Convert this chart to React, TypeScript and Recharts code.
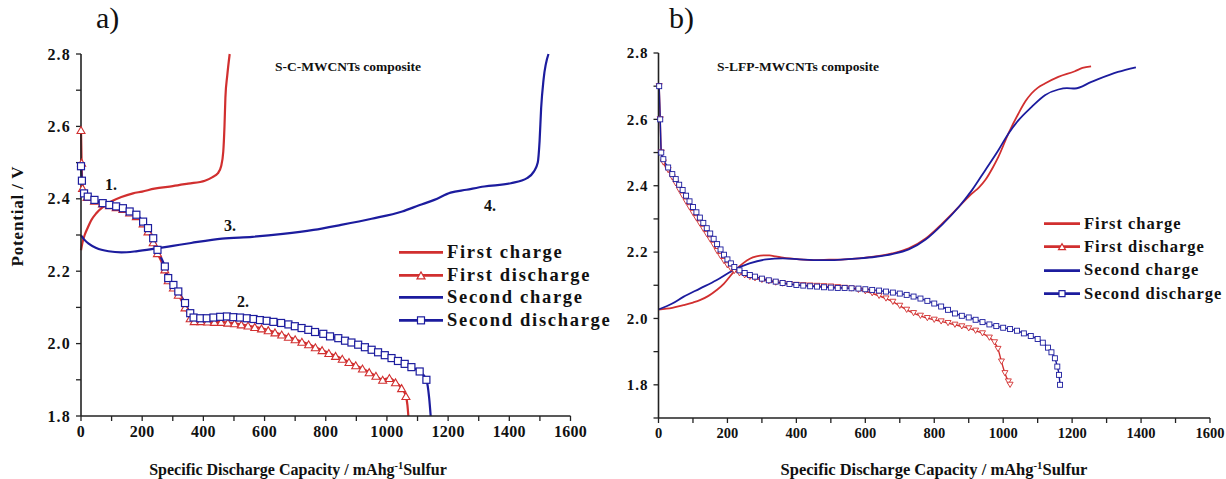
import { LineChart, Line, XAxis, YAxis, Label } from 'recharts'

const RED = '#d12f2f'
const BLUE = '#1c1c9e'
const SERIF = 'Liberation Serif'

// a) S-C-MWCNTs composite — [capacity mAh/g, potential V]
const scCharge1 = [
    [0, 2.258], [5, 2.28], [12, 2.3], [22, 2.32], [33, 2.34], [50, 2.36], [76, 2.38], [100, 2.393],
    [132, 2.405], [170, 2.415], [200, 2.42], [240, 2.428], [300, 2.435], [350, 2.442], [405, 2.45],
    [430, 2.46], [447, 2.47], [458, 2.49], [465, 2.53], [469, 2.6], [472, 2.68], [478, 2.74], [486, 2.8],
]
const scDischarge1 = [
    [0, 2.59], [2, 2.5], [5, 2.43], [20, 2.405], [44, 2.395], [70, 2.387], [93, 2.382], [115, 2.377],
    [137, 2.372], [159, 2.362], [181, 2.352], [203, 2.332], [219, 2.31], [236, 2.28], [250, 2.25],
    [274, 2.205], [285, 2.175], [302, 2.155], [318, 2.135], [340, 2.1], [357, 2.07], [370, 2.062],
    [392, 2.062], [414, 2.061], [436, 2.06], [458, 2.06], [480, 2.058], [502, 2.056], [524, 2.053],
    [546, 2.05], [568, 2.046], [590, 2.042], [612, 2.037], [634, 2.031], [656, 2.025], [678, 2.019],
    [700, 2.012], [722, 2.005], [744, 1.998], [766, 1.99], [788, 1.982], [810, 1.974], [832, 1.966],
    [854, 1.958], [876, 1.949], [898, 1.94], [920, 1.931], [942, 1.921], [964, 1.911], [986, 1.9],
    [1008, 1.905], [1028, 1.893], [1048, 1.877], [1062, 1.855], [1067, 1.83], [1070, 1.8],
]
const scCharge2 = [
    [0, 2.299], [10, 2.288], [25, 2.276], [50, 2.264], [90, 2.255], [132, 2.252], [180, 2.255],
    [247, 2.263], [300, 2.27], [360, 2.278], [461, 2.29], [560, 2.295], [660, 2.303], [760, 2.314],
    [850, 2.328], [950, 2.345], [1050, 2.365], [1105, 2.382], [1155, 2.397], [1208, 2.417],
    [1260, 2.425], [1318, 2.434], [1405, 2.443], [1458, 2.457], [1480, 2.475], [1493, 2.5],
    [1499, 2.56], [1504, 2.65], [1512, 2.73], [1528, 2.8],
]
const scDischarge2 = [
    [0, 2.49], [3, 2.45], [10, 2.415], [22, 2.406], [44, 2.397], [71, 2.388], [93, 2.383], [115, 2.379],
    [137, 2.374], [159, 2.365], [181, 2.356], [203, 2.337], [219, 2.319], [236, 2.291], [250, 2.259],
    [274, 2.213], [285, 2.181], [302, 2.162], [318, 2.144], [340, 2.112], [357, 2.084], [368, 2.072],
    [390, 2.07], [411, 2.07], [433, 2.072], [455, 2.074], [477, 2.075], [498, 2.073], [520, 2.072],
    [542, 2.07], [564, 2.068], [585, 2.065], [607, 2.063], [629, 2.06], [654, 2.057], [678, 2.053],
    [699, 2.048], [721, 2.043], [743, 2.038], [765, 2.032], [792, 2.027], [814, 2.02], [841, 2.015],
    [863, 2.008], [884, 2.003], [906, 1.997], [928, 1.99], [950, 1.983], [971, 1.976], [993, 1.968],
    [1015, 1.96], [1036, 1.952], [1058, 1.944], [1080, 1.935], [1107, 1.923], [1129, 1.9],
    [1138, 1.85], [1143, 1.8],
]

// b) S-LFP-MWCNTs composite
const lfpCharge1 = [
    [0, 2.027], [40, 2.032], [72, 2.04], [100, 2.048], [120, 2.055], [145, 2.068], [168, 2.085],
    [190, 2.105], [206, 2.125], [225, 2.148], [245, 2.166], [265, 2.18], [284, 2.187], [305, 2.19],
    [322, 2.19], [340, 2.187], [361, 2.183], [409, 2.178], [450, 2.176], [495, 2.177], [540, 2.178],
    [582, 2.181], [630, 2.187], [678, 2.196], [726, 2.211], [775, 2.241], [823, 2.286], [871, 2.336],
    [909, 2.376], [930, 2.395], [948, 2.417], [970, 2.455], [986, 2.487], [1015, 2.557],
    [1044, 2.617], [1065, 2.655], [1082, 2.678], [1100, 2.695], [1121, 2.708], [1160, 2.728],
    [1208, 2.745], [1230, 2.755], [1255, 2.76],
]
const lfpDischarge1 = [
    [2, 2.7], [5, 2.6], [8, 2.5], [14, 2.47], [28, 2.447], [40, 2.425], [50, 2.407], [60, 2.388],
    [70, 2.37], [80, 2.352], [90, 2.335], [100, 2.318], [110, 2.302], [120, 2.286], [130, 2.27],
    [140, 2.254], [150, 2.238], [160, 2.222], [170, 2.203], [180, 2.188], [190, 2.173], [200, 2.16],
    [210, 2.15], [220, 2.143], [235, 2.136], [250, 2.13], [265, 2.125], [280, 2.121], [300, 2.116],
    [320, 2.112], [340, 2.108], [360, 2.105], [380, 2.103], [400, 2.101], [420, 2.1], [440, 2.099],
    [460, 2.098], [480, 2.097], [500, 2.096], [520, 2.094], [540, 2.092], [560, 2.09], [580, 2.086],
    [600, 2.082], [620, 2.076], [640, 2.068], [660, 2.06], [680, 2.05], [700, 2.038], [720, 2.026],
    [740, 2.016], [760, 2.008], [780, 2.001], [800, 1.996], [820, 1.991], [840, 1.986], [860, 1.981],
    [880, 1.976], [900, 1.97], [920, 1.963], [940, 1.955], [960, 1.942], [975, 1.928], [985, 1.908],
    [995, 1.87], [1005, 1.835], [1015, 1.81], [1020, 1.8],
]
const lfpCharge2 = [
    [0, 2.027], [40, 2.045], [72, 2.065], [120, 2.09], [168, 2.115], [216, 2.145], [264, 2.166],
    [313, 2.178], [361, 2.181], [409, 2.178], [450, 2.176], [495, 2.176], [540, 2.178], [582, 2.181],
    [630, 2.186], [678, 2.194], [726, 2.208], [775, 2.238], [823, 2.283], [871, 2.336], [909, 2.386],
    [948, 2.447], [986, 2.507], [1015, 2.557], [1044, 2.597], [1082, 2.637], [1121, 2.673],
    [1160, 2.69], [1185, 2.694], [1208, 2.693], [1256, 2.713], [1333, 2.743], [1385, 2.757],
]
const lfpDischarge2 = [
    [2, 2.7], [5, 2.6], [8, 2.5], [14, 2.48], [28, 2.455], [40, 2.435], [50, 2.42], [60, 2.403],
    [70, 2.387], [80, 2.37], [90, 2.353], [100, 2.336], [110, 2.32], [120, 2.304], [130, 2.288],
    [140, 2.272], [150, 2.256], [160, 2.24], [170, 2.224], [180, 2.208], [190, 2.192], [200, 2.178],
    [210, 2.166], [220, 2.155], [235, 2.145], [250, 2.137], [265, 2.131], [280, 2.126], [300, 2.12],
    [320, 2.115], [340, 2.111], [360, 2.107], [380, 2.104], [400, 2.101], [420, 2.099], [440, 2.097],
    [460, 2.096], [480, 2.094], [500, 2.093], [520, 2.092], [540, 2.092], [560, 2.091], [580, 2.09],
    [600, 2.088], [620, 2.086], [640, 2.084], [660, 2.081], [680, 2.078], [700, 2.075], [720, 2.071],
    [740, 2.066], [760, 2.06], [780, 2.053], [800, 2.045], [820, 2.036], [840, 2.026], [860, 2.015],
    [880, 2.008], [900, 2.003], [920, 1.996], [940, 1.989], [960, 1.982], [980, 1.977], [1000, 1.972],
    [1020, 1.968], [1040, 1.963], [1060, 1.955], [1080, 1.947], [1100, 1.938], [1115, 1.927],
    [1130, 1.912], [1140, 1.898], [1150, 1.88], [1157, 1.855], [1162, 1.83], [1165, 1.8],
]

const xTicks = [0, 100, 200, 300, 400, 500, 600, 700, 800, 900, 1000, 1100, 1200, 1300, 1400, 1500, 1600]
const yTicksA = [1.8, 1.9, 2.0, 2.1, 2.2, 2.3, 2.4, 2.5, 2.6, 2.7, 2.8]
const yTicksB = [1.7, 1.8, 1.9, 2.0, 2.1, 2.2, 2.3, 2.4, 2.5, 2.6, 2.7, 2.8]
const seriesNames = ['First charge', 'First discharge', 'Second charge', 'Second discharge']

const rows = (pts: number[][]) => pts.map(([v, p]) => ({ v, p }))

const fmtX = (v: number) => (v % 200 === 0 ? String(v) : '')
const fmtY = (v: number) => (Math.round(v * 10) % 2 === 0 ? v.toFixed(1) : '')

// markers
const squareDot = (color: string, size: number, sw: number, stopAt: number) => (props: any) => {
    const { cx, cy, index } = props
    if (cx == null || cy == null || index >= stopAt) return <g key={'s' + index} />
    return (
        <rect key={'s' + index} x={cx - size / 2} y={cy - size / 2} width={size} height={size}
            fill="#fff" stroke={color} strokeWidth={sw} />
    )
}
const triDot = (color: string, size: number, sw: number, stopAt: number, down = false) => (props: any) => {
    const { cx, cy, index } = props
    if (cx == null || cy == null || index >= stopAt) return <g key={'t' + index} />
    const h = size * 0.87
    const pts = down
        ? `${cx - size / 2},${cy - h / 2} ${cx + size / 2},${cy - h / 2} ${cx},${cy + h / 2}`
        : `${cx - size / 2},${cy + h / 2} ${cx + size / 2},${cy + h / 2} ${cx},${cy - h / 2}`
    return <polygon key={'t' + index} points={pts} fill="#fff" stroke={color} strokeWidth={sw} />
}

const capLabel = (cx: number, y: number, size: number) => () => (
    <text x={cx} y={y} textAnchor="middle" fontFamily={SERIF} fontWeight={700} fontSize={size} fill="#111">
        Specific Discharge Capacity / mAhg
        <tspan dy={-6} fontSize={size * 0.65}>-1</tspan>
        <tspan dy={6}>Sulfur</tspan>
    </text>
)

const axisLine = { stroke: '#222', strokeWidth: 1.6 }
const tickLine = { stroke: '#222', strokeWidth: 1.3 }
const tickFont = (size: number, spacing: number) => ({
    fill: '#111', fontSize: size, fontWeight: 700, fontFamily: SERIF, style: { letterSpacing: spacing },
})

function Legend({ left, top, rowH, sampleW, fontSize, spacing, mark }: any) {
    const colors = [RED, RED, BLUE, BLUE]
    return (
        <div style={{ position: 'absolute', left, top }}>
            {seriesNames.map((name, i) => (
                <div key={name} style={{ height: rowH, display: 'flex', alignItems: 'center' }}>
                    <svg width={sampleW} height={rowH}>
                        <line x1={1} x2={sampleW - 1} y1={rowH / 2} y2={rowH / 2} stroke={colors[i]} strokeWidth={2.6} />
                        {i === 1 && triDot(RED, mark + 1, 1.2, 99)({ cx: sampleW / 2, cy: rowH / 2, index: 0 })}
                        {i === 3 && squareDot(BLUE, mark, 1.2, 99)({ cx: sampleW / 2, cy: rowH / 2, index: 0 })}
                    </svg>
                    <span style={{ fontFamily: SERIF, fontWeight: 700, fontSize, letterSpacing: spacing, color: '#111', marginLeft: 3, whiteSpace: 'nowrap' }}>
                        {name}
                    </span>
                </div>
            ))}
        </div>
    )
}

const note = (text: string, x: number, y: number, size = 16) => (
    <div key={text + x} style={{
        position: 'absolute', left: x, top: y, transform: 'translate(-50%, -50%)',
        fontFamily: SERIF, fontWeight: 700, fontSize: size, color: '#111', whiteSpace: 'nowrap',
    }}>{text}</div>
)

export default function App() {
    const a1 = rows(scCharge1), a2 = rows(scDischarge1), a3 = rows(scCharge2), a4 = rows(scDischarge2)
    const b1 = rows(lfpCharge1), b2 = rows(lfpDischarge1), b3 = rows(lfpCharge2), b4 = rows(lfpDischarge2)
    return (
        <div style={{ position: 'absolute', left: 0, top: 0, width: 1226, height: 479, background: '#fff', overflow: 'hidden' }}>
            <div style={{ position: 'absolute', left: 0, top: 0 }}>
                <LineChart width={620} height={479} margin={{ top: 54, right: 49.5, bottom: 13, left: 21 }}>
                    <XAxis type="number" dataKey="v" domain={[0, 1600]} ticks={xTicks} interval={0}
                        tickFormatter={fmtX} axisLine={axisLine} tickLine={tickLine} tickSize={5} tickMargin={5}
                        tick={tickFont(16, 0.3)} height={50}>
                        <Label content={capLabel(298, 475, 16)} />
                    </XAxis>
                    <YAxis type="number" domain={[1.8, 2.8]} ticks={yTicksA} interval={0} width={60}
                        tickFormatter={fmtY} axisLine={axisLine} tickLine={tickLine} tickSize={5} tickMargin={5}
                        tick={tickFont(16, 1.2)}>
                        <Label content={() => (
                            <text x={23} y={216} transform="rotate(-90 23 216)" textAnchor="middle"
                                fontFamily={SERIF} fontWeight={700} fontSize={17} letterSpacing={0.8} fill="#111">Potential / V</text>
                        )} />
                    </YAxis>
                    <Line data={a1} dataKey="p" type="monotone" stroke={RED} strokeWidth={2.2} dot={false} activeDot={false} isAnimationActive={false} />
                    <Line data={a2} dataKey="p" type="monotone" stroke={RED} strokeWidth={2.2} dot={triDot(RED, 8, 1.1, a2.length - 2)} activeDot={false} isAnimationActive={false} />
                    <Line data={a3} dataKey="p" type="monotone" stroke={BLUE} strokeWidth={2.2} dot={false} activeDot={false} isAnimationActive={false} />
                    <Line data={a4} dataKey="p" type="monotone" stroke={BLUE} strokeWidth={2.2} dot={squareDot(BLUE, 7, 1.2, a4.length - 2)} activeDot={false} isAnimationActive={false} />
                </LineChart>
            </div>
            <div style={{ position: 'absolute', left: 600, top: 0 }}>
                <LineChart width={626} height={479} margin={{ top: 53, right: 16, bottom: 11, left: 8.5 }}>
                    <XAxis type="number" dataKey="v" domain={[0, 1600]} ticks={xTicks} interval={0}
                        tickFormatter={fmtX} axisLine={axisLine} tickLine={tickLine} tickSize={5} tickMargin={5}
                        tick={tickFont(14.5, 0)} height={50}>
                        <Label content={capLabel(334, 475, 16.5)} />
                    </XAxis>
                    <YAxis type="number" domain={[1.7, 2.8]} ticks={yTicksB} interval={0} width={50}
                        tickFormatter={fmtY} axisLine={axisLine} tickLine={tickLine} tickSize={5} tickMargin={5}
                        tick={tickFont(15, 1)} />
                    <Line data={b1} dataKey="p" type="monotone" stroke={RED} strokeWidth={1.8} dot={false} activeDot={false} isAnimationActive={false} />
                    <Line data={b2} dataKey="p" type="monotone" stroke={RED} strokeWidth={1.4} dot={triDot(RED, 6, 0.9, b2.length, true)} activeDot={false} isAnimationActive={false} />
                    <Line data={b3} dataKey="p" type="monotone" stroke={BLUE} strokeWidth={1.8} dot={false} activeDot={false} isAnimationActive={false} />
                    <Line data={b4} dataKey="p" type="monotone" stroke={BLUE} strokeWidth={1.4} dot={squareDot(BLUE, 5, 0.9, b4.length)} activeDot={false} isAnimationActive={false} />
                </LineChart>
            </div>

            <Legend left={398} top={241} rowH={22.7} sampleW={46} fontSize={18.5} spacing={1.7} mark={7} />
            <Legend left={1043} top={212} rowH={23.3} sampleW={38} fontSize={16.5} spacing={1} mark={6} />

            <div style={{ position: 'absolute', left: 96, top: 1, fontFamily: SERIF, fontSize: 30, color: '#111' }}>a)</div>
            <div style={{ position: 'absolute', left: 669, top: 1, fontFamily: SERIF, fontSize: 30, color: '#111' }}>b)</div>
            {note('S-C-MWCNTs composite', 348, 67, 13.5)}
            {note('S-LFP-MWCNTs composite', 798, 67, 13.5)}
            {note('1.', 111, 185)}
            {note('2.', 243, 302)}
            {note('3.', 230, 226)}
            {note('4.', 490, 206)}
        </div>
    )
}
